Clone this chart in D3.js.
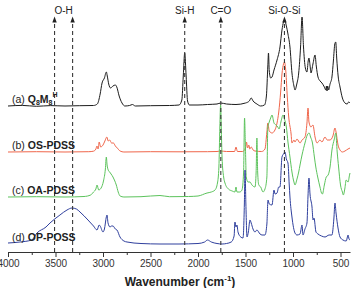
<!DOCTYPE html>
<html>
<head>
<meta charset="utf-8">
<script src="https://cdn.jsdelivr.net/npm/d3@7"></script>
<style>
  html, body { margin: 0; padding: 0; background: #fff; }
  svg { display: block; font-family: Arial, "Liberation Sans", sans-serif; }
</style>
</head>
<body>
<svg id="chart" width="355" height="288"></svg>
<script>
// ── Data ─────────────────────────────────────────────────────────────────────
// [wavenumber (cm-1), intensity above own baseline (a.u.)]
const specA = [
  [4000,0],[3850,0.6],[3700,-0.3],[3550,0.4],[3400,0],[3250,0.3],[3100,0.5],[3060,2],
  [3030,12],[3010,23],[2985,28],[2965,34],[2955,30],[2940,22],[2920,18],[2895,20],
  [2870,21],[2855,19],[2830,10],[2800,3],[2770,0],[2720,0.5],[2690,1.5],[2660,0],
  [2500,0.3],[2300,0.5],[2200,1],[2170,6],[2155,30],[2140,53],[2125,30],[2110,5],
  [2090,1],[2000,1],[1900,1.5],[1800,2],[1760,3],[1700,2],[1600,1.5],[1500,3],
  [1460,5],[1440,8],[1420,5],[1380,2],[1340,0],[1300,1],[1280,10],[1265,40],[1258,53],
  [1250,35],[1235,28],[1221,29],[1200,36],[1168,46],[1137,59],[1116,76],[1100,84],
  [1088,86],[1070,80],[1053,72],[1032,59],[1011,33],[990,20],[979,16],[960,22],
  [940,33],[920,60],[905,89],[890,60],[870,38],[853,34],[840,45],[832,48],[820,40],
  [811,33],[790,42],[768,51],[755,40],[737,29],[715,25],[695,23],[670,19],[655,16],
  [648,20],[642,15],[635,20],[625,16],[610,22],[590,29],[575,45],[560,62],[550,64],
  [540,48],[525,30],[505,19],[480,8],[453,3],[430,2],[415,4],[400,3]
];
const specB = [
  [4000,0],[3700,0.3],[3400,0],[3150,0.3],[3100,0.8],[3075,3],[3063,6],[3052,3],
  [3040,10],[3025,5],[3000,7],[2980,11],[2960,15],[2945,11],[2930,12],[2910,9],
  [2890,9],[2870,6],[2850,4],[2820,1],[2780,0],[2500,0.3],[2200,0.2],[1900,0.3],
  [1800,0.5],[1760,1],[1700,0.5],[1615,0.5],[1600,5],[1585,0.5],[1530,0.5],
  [1500,4],[1490,10],[1478,4],[1465,7],[1455,3],[1440,5],[1420,2],[1400,1],
  [1330,0.5],[1295,3],[1275,20],[1265,29],[1250,21],[1221,19],[1190,22],[1168,29],
  [1150,40],[1130,60],[1116,78],[1100,88],[1090,90],[1075,80],[1060,55],[1045,35],
  [1020,18],[1011,9],[990,12],[979,10],[958,13],[926,9],[905,12],[874,15],[853,29],
  [842,44],[832,30],[811,25],[790,27],[768,15],[747,9],[716,12],[695,10],[663,15],
  [640,12],[611,12],[580,16],[558,24],[547,20],[526,7],[505,2],[480,0],[453,1],
  [421,3],[400,4]
];
const specC = [
  [4000,0],[3700,0.3],[3400,0],[3200,0.5],[3130,2],[3100,5],[3075,8],[3063,12],
  [3045,7],[3020,9],[2995,16],[2975,28],[2965,40],[2957,32],[2945,27],[2930,25],
  [2915,23],[2895,20],[2880,17],[2860,12],[2840,5],[2820,1],[2780,0],[2600,0.3],
  [2400,1.5],[2300,0.3],[2100,0.5],[2000,1],[1905,4],[1860,5],[1821,7],[1795,14],
  [1780,30],[1770,70],[1762,92],[1755,70],[1747,40],[1730,20],[1716,14],[1680,8],
  [1640,6],[1611,5],[1600,10],[1590,5],[1560,5],[1537,7],[1520,25],[1510,79],
  [1502,55],[1492,20],[1474,15],[1453,15],[1432,12],[1400,10],[1388,25],[1380,59],
  [1372,25],[1360,12],[1340,10],[1316,5],[1295,8],[1275,20],[1265,70],[1250,75],
  [1235,79],[1221,82],[1200,74],[1180,72],[1160,70],[1147,68],[1125,76],[1105,82],
  [1090,78],[1070,70],[1053,55],[1032,40],[1011,25],[990,15],[979,12],[958,18],
  [940,25],[926,32],[905,42],[874,54],[850,62],[830,64],[815,60],[795,54],[775,40],
  [760,30],[740,20],[716,10],[700,4],[690,3],[670,12],[650,20],[630,22],[610,30],
  [590,47],[565,58],[550,64],[535,45],[520,30],[500,12],[480,5],[470,2],[455,8],
  [440,17],[420,15],[405,22],[400,24]
];
const specD = [
  [4000,1],[3874,2],[3750,4],[3695,11],[3600,17],[3558,21],[3453,29],[3379,34],
  [3326,36],[3280,35],[3242,32],[3158,24],[3100,18],[3063,14],[3040,19],[3030,18],
  [3000,12],[2985,15],[2965,27],[2958,29],[2947,21],[2926,17],[2910,18],[2895,18],
  [2870,15],[2853,14],[2821,7],[2780,3],[2747,2],[2600,0.5],[2400,0],[2200,0],
  [2000,0.5],[1930,2],[1900,4],[1860,2],[1800,0.5],[1747,0],[1700,0.5],[1650,2],
  [1620,8],[1611,22],[1600,17],[1590,19],[1579,12],[1550,7],[1526,6],[1512,40],
  [1505,74],[1496,40],[1484,7],[1470,12],[1453,24],[1440,21],[1421,15],[1400,12],
  [1380,14],[1347,10],[1326,9],[1295,9],[1275,20],[1263,44],[1250,40],[1221,39],
  [1200,54],[1189,50],[1168,51],[1150,57],[1137,57],[1116,87],[1100,90],[1084,92],
  [1070,85],[1053,81],[1040,60],[1032,47],[1011,27],[979,11],[958,9],[926,10],
  [905,19],[895,9],[874,15],[853,21],[842,48],[832,66],[821,50],[800,37],[789,24],
  [779,26],[758,12],[737,10],[700,8],[663,7],[620,9],[590,9],[570,25],[558,41],
  [547,31],[526,16],[505,7],[474,4],[440,3],[420,9],[410,5],[400,4]
];

const spectra = [specA, specB, specC, specD];
const offsets = [146, 100, 55, 8];
const colors = ['#1c1c1c', '#f0664b', '#5cc35c', '#2f3f9d'];
const labelTags = ['(a) ', '(b) ', '(c) ', '(d) '];
const labelNames = ['Q8M8H', 'OS-PDSS', 'OA-PDSS', 'OP-POSS'];

const majorTicks = [4000, 3500, 3000, 2500, 2000, 1500, 1000, 500];
const minorTicks = [3750, 3250, 2750, 2250, 1750, 1250, 750];

const guideWaves = [3510, 3320, 2140, 1760, 1090];
const guideLabels = ['O-H', 'Si-H', 'C=O', 'Si-O-Si'];
const guideLabelWaves = [3415, 2140, 1760, 1090];

// ── Setup ────────────────────────────────────────────────────────────────────
const svg = d3.select('#chart');
const x = d3.scaleLinear().domain([4000, 400]).range([8, 350]);
const y = d3.scaleLinear().domain([0, 240]).range([252, 12]);

// ── Spectra ──────────────────────────────────────────────────────────────────
spectra.forEach((s, i) => {
  const line = d3.line()
    .x(d => x(d[0]))
    .y(d => y(d[1] + offsets[i]))
    .curve(d3.curveMonotoneX);
  svg.append('path')
    .datum(s)
    .attr('fill', 'none')
    .attr('stroke', colors[i])
    .attr('stroke-width', 1)
    .attr('stroke-linejoin', 'round')
    .attr('d', line);
});

// ── Guide lines ──────────────────────────────────────────────────────────────
const guides = svg.append('g');
guideWaves.forEach(w => {
  guides.append('line')
    .attr('x1', x(w)).attr('x2', x(w))
    .attr('y1', y(0)).attr('y2', 21)
    .attr('stroke', '#3a3a3a')
    .attr('stroke-width', 1.1)
    .attr('stroke-dasharray', '4,3');
  guides.append('path')
    .attr('d', `M${x(w)},16.5 L${x(w) - 2.2},22.5 L${x(w) + 2.2},22.5 Z`)
    .attr('fill', '#222');
});
guideLabels.forEach((t, i) => {
  guides.append('text')
    .attr('x', x(guideLabelWaves[i]))
    .attr('y', 14)
    .attr('text-anchor', 'middle')
    .attr('font-size', 10)
    .attr('fill', '#222')
    .text(t);
});

// ── Series labels ────────────────────────────────────────────────────────────
labelNames.forEach((name, i) => {
  const t = svg.append('text')
    .attr('x', 12)
    .attr('y', y(offsets[i]) - 3)
    .attr('font-size', 10.5)
    .attr('fill', '#222');
  t.append('tspan').text(labelTags[i]);
  if (i === 0) {
    t.append('tspan').attr('font-weight', 'bold').text('Q');
    t.append('tspan').attr('font-weight', 'bold').attr('font-size', 7).attr('dy', 2).text('8');
    t.append('tspan').attr('font-weight', 'bold').attr('dy', -2).text('M');
    t.append('tspan').attr('font-weight', 'bold').attr('font-size', 7).attr('dy', 2).text('8');
    t.append('tspan').attr('font-weight', 'bold').attr('font-size', 7).attr('dy', -8).text('H');
  } else {
    t.append('tspan').attr('font-weight', 'bold').text(name);
  }
});

// ── Axis ─────────────────────────────────────────────────────────────────────
const axisG = svg.append('g')
  .attr('transform', `translate(0,${y(0)})`)
  .call(d3.axisBottom(x).tickValues(majorTicks).tickSize(5).tickSizeOuter(0)
    .tickPadding(3).tickFormat(d3.format('d')));
axisG.select('.domain').attr('stroke', '#333');
axisG.selectAll('.tick line').attr('stroke', '#333');
axisG.selectAll('.tick text')
  .attr('font-size', 10)
  .attr('font-family', 'Arial, "Liberation Sans", sans-serif')
  .attr('fill', '#333');

svg.append('g')
  .attr('transform', `translate(0,${y(0)})`)
  .call(d3.axisBottom(x).tickValues(minorTicks).tickSize(3).tickFormat(''))
  .call(g => g.select('.domain').remove())
  .selectAll('.tick line').attr('stroke', '#333');

const title = svg.append('text')
  .attr('x', 180)
  .attr('y', 286)
  .attr('text-anchor', 'middle')
  .attr('font-size', 12)
  .attr('font-weight', 'bold')
  .attr('fill', '#222');
title.append('tspan').text('Wavenumber (cm');
title.append('tspan').attr('font-size', 8).attr('dy', -5).text('-1');
title.append('tspan').attr('dy', 5).text(')');
</script>
</body>
</html>
